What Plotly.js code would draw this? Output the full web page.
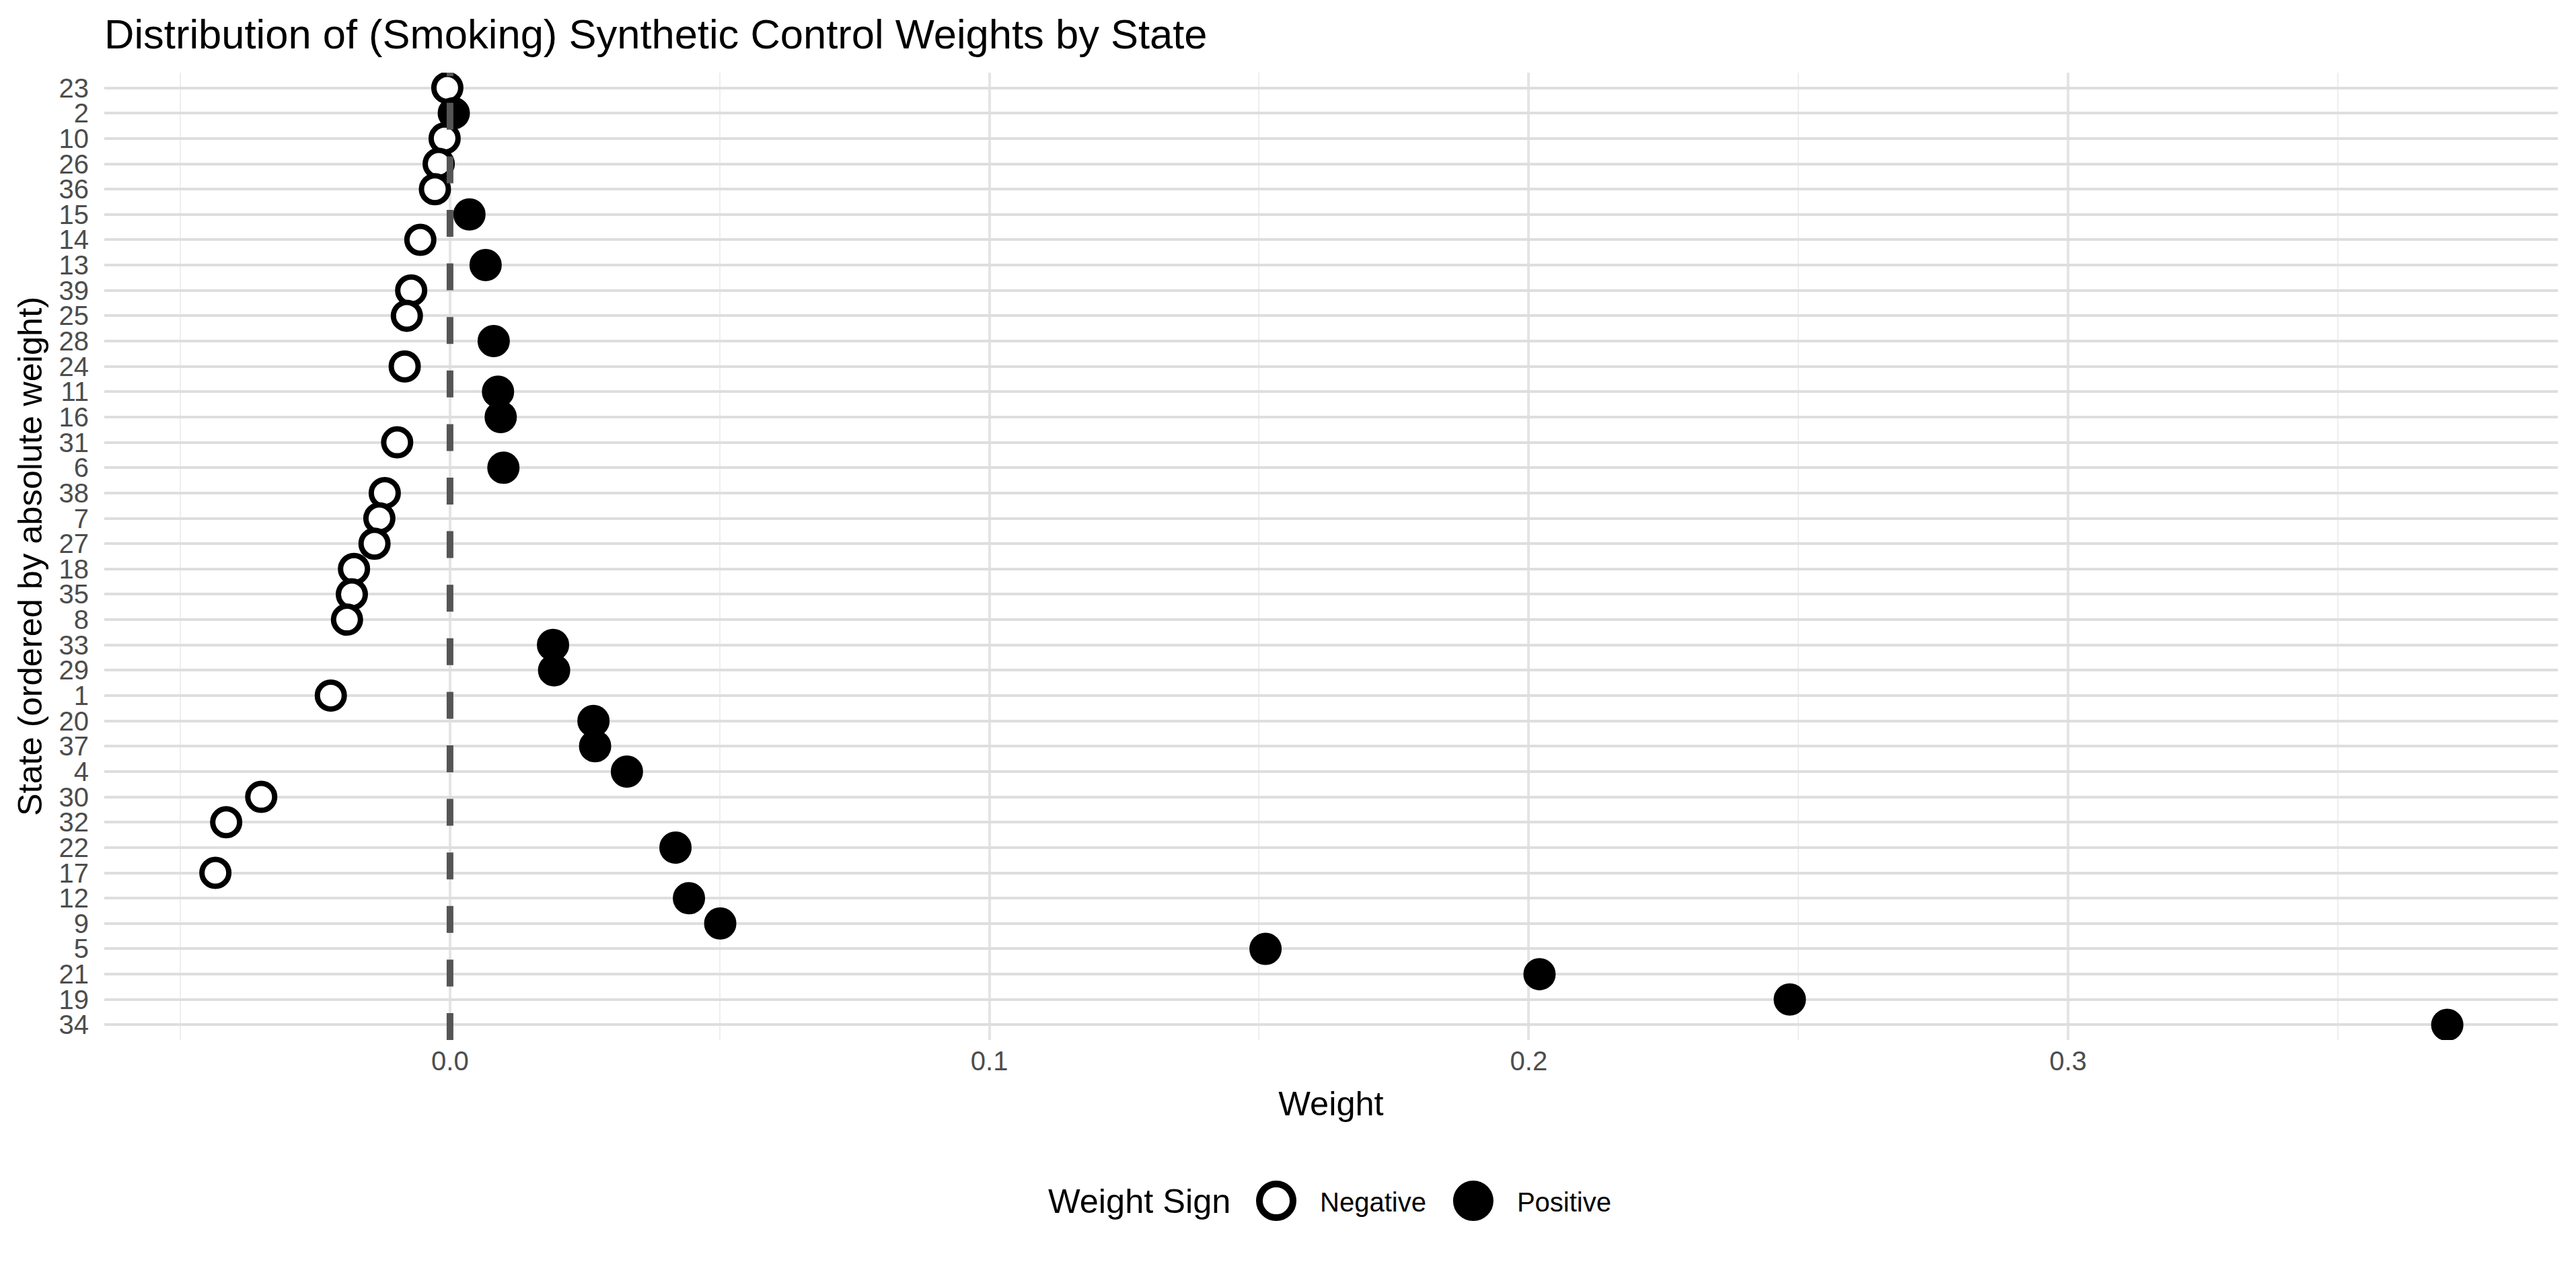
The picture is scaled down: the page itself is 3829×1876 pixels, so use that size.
<!DOCTYPE html>
<html>
<head>
<meta charset="utf-8">
<script src="https://cdn.plot.ly/plotly-3.0.1.min.js"></script>
<style>
  html, body { margin: 0; padding: 0; background: #ffffff; }
  #chart { width: 3829px; height: 1876px; }
</style>
</head>
<body>
<div id="chart"></div>
<script>
// States ordered by absolute weight (top to bottom)
var states = ['23','2','10','26','36','15','14','13','39','25','28','24','11','16','31','6','38','7','27','18','35','8','33','29','1','20','37','4','30','32','22','17','12','9','5','21','19','34'];
var weights = [-0.0005, 0.0007, -0.0010, -0.0021, -0.0028, 0.0036, -0.0055, 0.0066, -0.0072, -0.0080, 0.0081, -0.0084, 0.0089, 0.0094, -0.0098, 0.0099, -0.0121, -0.0131, -0.0140, -0.0178, -0.0182, -0.0191, 0.0191, 0.0193, -0.0221, 0.0266, 0.0269, 0.0328, -0.0350, -0.0415, 0.0418, -0.0435, 0.0443, 0.0501, 0.1512, 0.2020, 0.2484, 0.3703];
var signLabels = ['Negative', 'Positive'];
var xTickVals = [0, 0.1, 0.2, 0.3];
var xTickText = ['0.0', '0.1', '0.2', '0.3'];
var xMinorVals = [-0.05, 0.05, 0.15, 0.25, 0.35];

var FONT = 'Liberation Sans, Arial, Helvetica, sans-serif';
var TICK = 40, AXT = 50.5, TTL = 61.5;

function subset(neg) {
  var xs = [], ys = [];
  for (var i = 0; i < states.length; i++) {
    if ((weights[i] < 0) === neg) { xs.push(weights[i]); ys.push(states[i]); }
  }
  return {x: xs, y: ys};
}
var negD = subset(true), posD = subset(false);

var traces = [
  {
    type: 'scatter', mode: 'markers', name: signLabels[0],
    x: negD.x, y: negD.y,
    marker: {symbol: 'circle', size: 40, color: '#ffffff', line: {color: '#000000', width: 8}},
    hoverinfo: 'x+y'
  },
  {
    type: 'scatter', mode: 'markers', name: signLabels[1],
    x: posD.x, y: posD.y,
    marker: {symbol: 'circle', size: 40, color: '#000000', line: {color: '#000000', width: 8}},
    hoverinfo: 'x+y'
  }
];

var PW = 3829 - 155 - 27, PH = 1876 - 108 - 330;

var layout = {
  width: 3829, height: 1876,
  margin: {l: 155, r: 27, t: 108, b: 330, pad: 0},
  paper_bgcolor: '#ffffff', plot_bgcolor: '#ffffff',
  font: {family: FONT, color: '#000000'},
  title: {
    text: 'Distribution of (Smoking) Synthetic Control Weights by State',
    font: {family: FONT, size: TTL, color: '#000000'},
    xref: 'paper', x: 0, xanchor: 'left',
    yref: 'container', y: 1 - 50 / 1876, yanchor: 'middle'
  },
  xaxis: {
    range: [-0.0641, 0.3908],
    tickmode: 'array', tickvals: xTickVals, ticktext: xTickText,
    showgrid: true, gridcolor: '#e4e4e4', gridwidth: 4,
    minor: {tickmode: 'array', tickvals: xMinorVals, showgrid: true, gridcolor: '#eeeeee', gridwidth: 2, ticks: ''},
    zeroline: false, showline: false, ticks: '',
    ticklabelstandoff: 4,
    tickfont: {family: FONT, size: TICK, color: '#4d4d4d'},
    title: {text: 'Weight', font: {family: FONT, size: AXT, color: '#000000'}, standoff: 24},
    fixedrange: true
  },
  yaxis: {
    type: 'category', categoryorder: 'array', categoryarray: states,
    tickmode: 'array', tickvals: states, ticktext: states,
    range: [states.length - 0.4, -0.6],
    showgrid: true, gridcolor: '#dedede', gridwidth: 4,
    zeroline: false, showline: false, ticks: '',
    ticklabelstandoff: 22,
    tickfont: {family: FONT, size: TICK, color: '#4d4d4d'},
    title: {text: 'State (ordered by absolute weight)', font: {family: FONT, size: AXT, color: '#000000'}, standoff: 8},
    fixedrange: true
  },
  shapes: [{
    type: 'line', xref: 'x', yref: 'paper', x0: 0, x1: 0, y0: 0, y1: 1,
    line: {color: '#555555', width: 10, dash: '40px,39.6px'},
    layer: 'above'
  }],
  annotations: [{
    text: 'Weight Sign', showarrow: false,
    xref: 'paper', yref: 'paper',
    x: (1556 - 155) / PW, xanchor: 'left',
    y: -(1785 - PH - 108) / PH, yanchor: 'middle',
    font: {family: FONT, size: AXT, color: '#000000'}
  }],
  showlegend: true,
  legend: {
    orientation: 'h', x: (1832 - 155) / PW, xanchor: 'left', y: -(1785 - PH - 108) / PH, yanchor: 'middle',
    bgcolor: 'rgba(0,0,0,0)', borderwidth: 0,
    font: {family: FONT, size: TICK, color: '#000000'},
    itemwidth: 120, itemsizing: 'trace', itemclick: false, itemdoubleclick: false
  }
};

Plotly.newPlot('chart', traces, layout, {displayModeBar: false, responsive: false}).then(function () {
  var pts = document.querySelectorAll('#chart .legend path.scatterpts');
  pts.forEach(function (p) {
    p.setAttribute('d', 'M25,0A25,25 0 1,1 0,-25A25,25 0 0,1 25,0Z');
    p.style.strokeWidth = '10px';
  });
});
</script>
</body>
</html>
